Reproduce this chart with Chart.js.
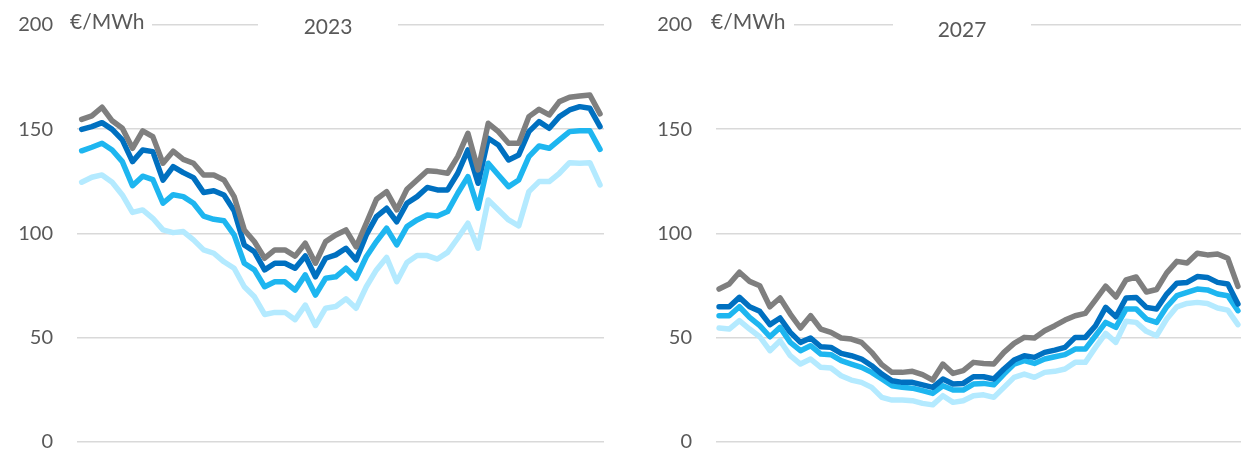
<!DOCTYPE html>
<html>
<head>
<meta charset="utf-8">
<script src="https://cdn.jsdelivr.net/npm/chart.js@4/dist/chart.umd.min.js"></script>
<style>
  html, body { margin: 0; padding: 0; background: #fff; overflow: hidden; }
  #wrap { position: relative; width: 1242px; height: 449px; }
  canvas { position: absolute; top: 0; }
  #chart2023 { left: 0; }
  #chart2027 { left: 621px; }
</style>
</head>
<body>
<div id="wrap">
  <canvas id="chart2023" width="621" height="460"></canvas>
  <canvas id="chart2027" width="621" height="460"></canvas>
</div>
<script>
// semaines de l'année (axe x, non affiché)
const weeks = [1, 2, 3, 4, 5, 6, 7, 8, 9, 10, 11, 12, 13, 14, 15, 16, 17, 18, 19, 20, 21, 22, 23, 24, 25, 26,
    27, 28, 29, 30, 31, 32, 33, 34, 35, 36, 37, 38, 39, 40, 41, 42, 43, 44, 45, 46, 47, 48, 49, 50, 51, 52];

const yTicks = [0, 50, 100, 150, 200];
const unitLabel = '€/MWh';

// 2023
const gray2023 = [154.7, 156.4, 160.5, 154, 150.4, 140.8, 149.2, 146.4, 133.6, 139.4, 135.5, 133.6, 128, 128, 125.6, 117.6, 101.6, 95.9, 88, 92, 92, 89, 95.2, 85.6, 96, 99.2,
    101.6, 93.5, 104.8, 116.3, 120, 111.2, 121.1, 125.6, 130, 129.6, 128.8, 136.8, 148, 130.4, 152.8, 148.8, 143.2, 143.2, 156, 159.5, 156.8, 163.2, 165.3, 165.9, 166.4, 157.3];
const darkBlue2023 = [149.9, 151.2, 153.1, 149.9, 144.8, 134.4, 140, 139.2, 125.5, 132, 129.1, 126.7, 119.6, 120.4, 118.4, 110.8, 94.4, 91.1, 82.4, 85.6, 85.6, 83.2, 89.1, 79.1, 88, 89.6,
    92.8, 87.2, 99.2, 108, 112, 105.5, 114.4, 117.6, 122, 120.8, 120.8, 128.8, 140, 124, 145.6, 142.4, 135.2, 137.6, 148.8, 153.6, 150.4, 156, 159.2, 160.8, 160, 151.2];
const midBlue2023 = [139.6, 141.3, 143.2, 140, 134.4, 122.8, 127.4, 125.8, 114.4, 118.5, 117.6, 114.4, 108.2, 106.7, 106, 99.2, 85.6, 82.4, 74.3, 76.7, 76.7, 72.7, 80, 70.3, 78.4, 79.1,
    83.2, 78.4, 88.7, 96, 102.4, 94.4, 103.2, 106.4, 108.8, 108.3, 110.4, 119.2, 127.2, 112, 133.6, 128, 122.4, 125.6, 136.8, 141.9, 140.8, 144.8, 148.8, 149.2, 149.2, 140.3];
const lightBlue2023 = [124.5, 126.9, 128, 124.5, 118.4, 110, 111.2, 107.2, 101.6, 100.3, 100.8, 96.8, 92, 90.4, 86.3, 83.2, 74.3, 69.5, 61, 62, 62, 58.5, 65.5, 55.7, 64, 64.8,
    68.5, 64, 74.3, 82.4, 88.4, 76.7, 86, 89.3, 89.3, 87.6, 90.8, 97.6, 104.8, 92.8, 116, 111.2, 106.4, 103.5, 120, 124.8, 124.8, 128.8, 133.9, 133.6, 133.9, 123.2];

// 2027
const gray2027 = [73.2, 75.6, 81.3, 76.9, 74.8, 64.7, 68.9, 61.2, 54.5, 60.4, 54, 52.4, 49.7, 49.2, 47.6, 42.8, 36.9, 33.2, 33.2, 33.7, 32.1, 29.5, 37.2, 32.7, 34, 38,
    37.5, 37.2, 42.8, 47.1, 50, 49.7, 53.2, 55.6, 58.3, 60.4, 61.5, 68, 74.6, 69.4, 77.6, 79, 71.8, 73, 81, 86.5, 85.7, 90.4, 89.6, 90, 88, 74.5];
const darkBlue2027 = [64.7, 64.7, 69.2, 64.7, 62.5, 56.1, 59.3, 52.4, 47.6, 49.7, 45.5, 45.2, 42.3, 41.2, 39.6, 36.4, 32.4, 29.2, 28.4, 28.4, 27.2, 26, 30, 27.6, 27.9, 31.1,
    31.1, 30, 34.8, 39.1, 41.2, 40.4, 42.8, 43.9, 45.2, 50, 50, 55.6, 64.4, 59.9, 68.9, 69.2, 64.4, 63.6, 70.8, 76, 76.4, 79.2, 78.8, 76.4, 75.6, 66];
const midBlue2027 = [60.4, 60.4, 64.7, 59.6, 55.6, 50.3, 54.8, 47.6, 43.6, 46, 42, 41.7, 38.8, 37.2, 35.6, 33.2, 30, 26.8, 26, 25.6, 24.4, 23.1, 26.8, 24.7, 24.7, 27.6,
    27.9, 27.2, 32.4, 37.2, 38.8, 37.5, 39.6, 40.7, 41.7, 44.4, 44.4, 50.8, 57.2, 54.8, 63.6, 63.6, 58.8, 57.2, 64.7, 70, 71.6, 73.2, 72.8, 70.8, 70, 62.8];
const lightBlue2027 = [54.5, 54, 58, 54, 50.3, 43.6, 48.4, 41.2, 37.2, 39.6, 35.6, 35.3, 31.6, 29.5, 28.4, 26, 21.2, 19.9, 19.9, 19.6, 18.3, 17.6, 22, 18.8, 19.6, 22,
    22.4, 21.2, 26, 30.8, 32.4, 30.8, 33.2, 33.7, 34.8, 38, 38, 45.2, 51.9, 47.6, 57.7, 57.2, 52.9, 50.8, 58.8, 64.7, 66.3, 66.8, 66.3, 64.1, 63.1, 56.1];

const COLORS = { gray: '#7F7F7F', darkBlue: '#0070C0', midBlue: '#1EB6F0', lightBlue: '#B4EAFF' };
const TEXT_COLOR = '#595959';
const FONT = 'Lato, "Open Sans", sans-serif';

function toPoints(values) {
    return values.map((v, i) => ({ x: weeks[i], y: v }));
}

// le 1er dataset est dessiné en dernier (au-dessus)
function buildDatasets(gray, darkBlue, midBlue, lightBlue) {
    return [
        { label: 'gris', data: toPoints(gray), borderColor: COLORS.gray },
        { label: 'bleu foncé', data: toPoints(darkBlue), borderColor: COLORS.darkBlue },
        { label: 'bleu', data: toPoints(midBlue), borderColor: COLORS.midBlue },
        { label: 'bleu clair', data: toPoints(lightBlue), borderColor: COLORS.lightBlue }
    ];
}

// unité + titre posés sur la ligne des 200, avec un fond blanc qui coupe la grille
function headerPlugin(cfg) {
    return {
        id: 'header',
        afterDraw(chart) {
            const ctx = chart.ctx;
            const y = chart.scales.y.getPixelForValue(200);
            ctx.save();
            ctx.fillStyle = '#fff';
            ctx.fillRect(chart.chartArea.left - 2, y - 4, cfg.unitGapEnd - chart.chartArea.left + 2, 8);
            ctx.fillRect(cfg.titleGap[0], y - 4, cfg.titleGap[1] - cfg.titleGap[0], 8);
            ctx.fillStyle = TEXT_COLOR;
            ctx.textBaseline = 'alphabetic';
            ctx.font = `21px ${FONT}`;
            ctx.textAlign = 'left';
            ctx.fillText(unitLabel, cfg.unitX, 29);
            ctx.textAlign = 'center';
            ctx.fillText(cfg.title, cfg.titleX, cfg.titleBaseline);
            ctx.restore();
        }
    };
}

function makeChart(canvasId, datasets, cfg) {
    return new Chart(document.getElementById(canvasId), {
        type: 'line',
        data: { datasets: datasets },
        options: {
            responsive: false,
            animation: false,
            layout: { padding: { left: cfg.padLeft, right: cfg.padRight, top: 25, bottom: 18.5 } },
            plugins: { legend: { display: false }, tooltip: { enabled: false } },
            elements: {
                point: { radius: 0 },
                line: { borderWidth: 5.5, tension: 0, borderJoinStyle: 'round', borderCapStyle: 'round' }
            },
            scales: {
                x: { type: 'linear', min: cfg.xMin, max: cfg.xMax, display: false },
                y: {
                    min: yTicks[0], max: yTicks[yTicks.length - 1],
                    afterBuildTicks: (scale) => { scale.ticks = yTicks.map(v => ({ value: v })); },
                    afterFit: (scale) => {
                        scale.width = 77;
                        // le padding des libellés ne doit pas rogner la zone de tracé
                        scale.paddingTop = 0;
                        scale.paddingBottom = 0;
                    },
                    ticks: { padding: 24, color: TEXT_COLOR, font: { family: FONT, size: 20 } },
                    grid: { color: '#D9D9D9', lineWidth: 1.5, drawTicks: false },
                    border: { display: false }
                }
            }
        },
        plugins: [headerPlugin(cfg)]
    });
}

makeChart('chart2023', buildDatasets(gray2023, darkBlue2023, midBlue2023, lightBlue2023), {
    padLeft: 0, padRight: 17, xMin: 0.54, xMax: 52.39,
    title: '2023', titleX: 328, titleBaseline: 34, titleGap: [258, 398],
    unitX: 70, unitGapEnd: 152
});

makeChart('chart2027', buildDatasets(gray2027, darkBlue2027, midBlue2027, lightBlue2027), {
    padLeft: 18, padRight: 1, xMin: 0.7, xMax: 52.3,
    title: '2027', titleX: 341, titleBaseline: 37, titleGap: [272, 410],
    unitX: 90, unitGapEnd: 173
});
</script>
</body>
</html>
